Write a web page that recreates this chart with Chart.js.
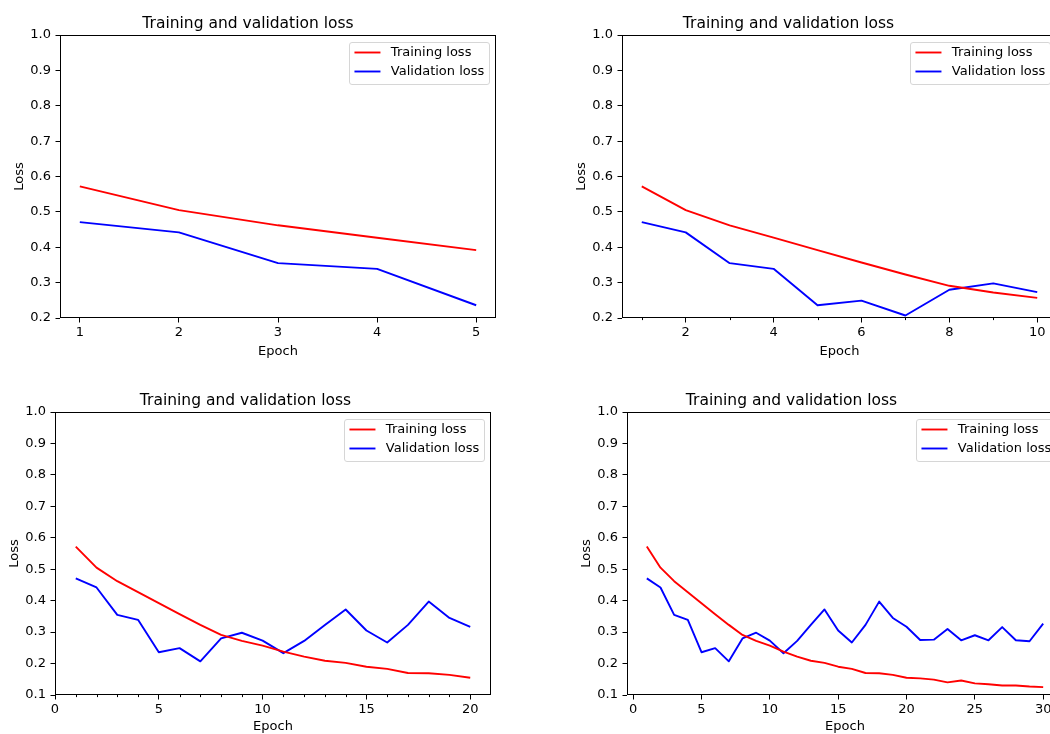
<!DOCTYPE html>
<html>
<head>
<meta charset="utf-8">
<title>Training and validation loss</title>
<script src="https://cdn.jsdelivr.net/npm/chart.js@4.4.1/dist/chart.umd.min.js"></script>
<style>
  html, body { margin: 0; padding: 0; background: #fff; overflow: hidden; }
  body { width: 1050px; height: 734px; position: relative; }
  canvas { position: absolute; }
</style>
</head>
<body>
<script>
// Loss per epoch of one training run; each panel shows the first N epochs
const epochs = [1, 2, 3, 4, 5, 6, 7, 8, 9, 10,
  11, 12, 13, 14, 15, 16, 17, 18, 19, 20,
  21, 22, 23, 24, 25, 26, 27, 28, 29, 30];
const trainLoss = [0.572, 0.505, 0.462, 0.427, 0.392, 0.357, 0.323, 0.291, 0.272, 0.257,
  0.238, 0.222, 0.209, 0.202, 0.190, 0.183, 0.170, 0.169, 0.164, 0.155,
  0.153, 0.149, 0.140, 0.146, 0.137, 0.134, 0.130, 0.130, 0.127, 0.125];
const valLoss = [0.471, 0.442, 0.355, 0.339, 0.236, 0.249, 0.207, 0.280, 0.298, 0.273,
  0.233, 0.272, 0.323, 0.372, 0.305, 0.267, 0.323, 0.397, 0.345, 0.317,
  0.275, 0.276, 0.310, 0.274, 0.290, 0.274, 0.316, 0.274, 0.271, 0.327];

const epochCounts = [5, 10, 20, 30];
const xTicks5 = [1, 2, 3, 4, 5];
const xTicks10 = [2, 4, 6, 8, 10];
const xTicks20 = [0, 5, 10, 15, 20];
const xTicks30 = [0, 5, 10, 15, 20, 25, 30];
const yTicksTop = [0.2, 0.3, 0.4, 0.5, 0.6, 0.7, 0.8, 0.9, 1.0];
const yTicksBottom = [0.1, 0.2, 0.3, 0.4, 0.5, 0.6, 0.7, 0.8, 0.9, 1.0];

const titleText = 'Training and validation loss';
const seriesNames = ['Training loss', 'Validation loss'];
const seriesColors = ['#ff0000', '#0000ff'];

Chart.defaults.font.family = '"DejaVu Sans", sans-serif';
Chart.defaults.color = '#000';

// canvas box and plot area in page pixels
const panels = [
  { box: [0, 0, 520, 370], area: [60, 35, 496, 318], n: epochCounts[0],
    xMin: 0.8, xMax: 5.2, xTicks: xTicks5, xMinor: [], yTicks: yTicksTop,
    titleTop: 14.2, xTitleBottom: 11 },
  { box: [520, 0, 545, 370], area: [622, 35, 1057, 318], n: epochCounts[1],
    xMin: 0.55, xMax: 10.45, xTicks: xTicks10, xMinor: [1, 3, 5, 7, 9], yTicks: yTicksTop,
    titleTop: 14.2, xTitleBottom: 11 },
  { box: [0, 372, 520, 362], area: [55, 412, 491, 695], n: epochCounts[2],
    xMin: 0, xMax: 21, xTicks: xTicks20,
    xMinor: [1, 2, 3, 4, 6, 7, 8, 9, 11, 12, 13, 14, 16, 17, 18, 19], yTicks: yTicksBottom,
    titleTop: 19.8, xTitleBottom: 0 },
  { box: [520, 372, 550, 362], area: [627, 412, 1063, 695], n: epochCounts[3],
    xMin: -0.45, xMax: 31.45, xTicks: xTicks30, xMinor: [], yTicks: yTicksBottom,
    titleTop: 19.8, xTitleBottom: 0 }
];

// spines on all four sides plus short minor ticks under the x axis
const framePlugin = {
  id: 'frame',
  afterDatasetsDraw(chart, args, opts) {
    const { ctx, chartArea } = chart;
    const l = Math.round(chartArea.left) + 0.5, t = Math.round(chartArea.top) + 0.5;
    const r = Math.round(chartArea.right) - 0.5, b = Math.round(chartArea.bottom) - 0.5;
    ctx.save();
    ctx.strokeStyle = '#000';
    ctx.lineWidth = 1;
    ctx.strokeRect(l, t, r - l, b - t);
    const xs = chart.scales.x;
    ctx.beginPath();
    (opts.minor || []).forEach(v => {
      const px = Math.round(xs.getPixelForValue(v)) + 0.5;
      ctx.moveTo(px, b);
      ctx.lineTo(px, b + 2.6);
    });
    ctx.stroke();
    ctx.restore();
  }
};

// framed legend in the upper right corner of the plot area
const legendPlugin = {
  id: 'boxLegend',
  afterDraw(chart) {
    const { ctx, chartArea } = chart;
    const fs = 13, pad = 5.2, handle = 26, gap = 10.4, h = 41.6;
    ctx.save();
    ctx.font = fs + 'px "DejaVu Sans"';
    const sets = chart.data.datasets;
    const textW = Math.max(...sets.map(d => ctx.measureText(d.label).width));
    const w = pad * 2 + handle + gap + textW;
    const x = chartArea.right - 6.5 - w;
    const y = chartArea.top + 6.5;
    ctx.beginPath();
    ctx.roundRect(Math.round(x) + 0.5, Math.round(y) + 0.5, Math.round(w), Math.round(h), 2.5);
    ctx.fillStyle = 'rgba(255,255,255,0.8)';
    ctx.fill();
    ctx.strokeStyle = '#d6d6d6';
    ctx.lineWidth = 1;
    ctx.stroke();
    sets.forEach((d, i) => {
      const cy = y + 11 + i * 19;
      ctx.beginPath();
      ctx.moveTo(x + pad, cy);
      ctx.lineTo(x + pad + handle, cy);
      ctx.strokeStyle = d.borderColor;
      ctx.lineWidth = 1.9;
      ctx.stroke();
      ctx.fillStyle = '#000';
      ctx.textBaseline = 'middle';
      ctx.textAlign = 'left';
      ctx.fillText(d.label, x + pad + handle + gap, cy + 0.5);
    });
    ctx.restore();
  }
};

function series(values, n) {
  return epochs.slice(0, n).map((e, i) => ({ x: e, y: values[i] }));
}

panels.forEach(p => {
  const [bx, by, bw, bh] = p.box;
  const [al, at, ar, ab] = p.area;
  const canvas = document.createElement('canvas');
  canvas.width = bw;
  canvas.height = bh;
  canvas.style.left = bx + 'px';
  canvas.style.top = by + 'px';
  document.body.appendChild(canvas);

  const yWidth = al - bx;
  const xHeight = by + bh - ab;
  const titleBottom = (at - by) - 15.5 * 1.2 - p.titleTop;

  new Chart(canvas.getContext('2d'), {
    type: 'line',
    data: {
      datasets: [
        { label: seriesNames[0], data: series(trainLoss, p.n), borderColor: seriesColors[0] },
        { label: seriesNames[1], data: series(valLoss, p.n), borderColor: seriesColors[1] }
      ]
    },
    options: {
      responsive: false,
      animation: false,
      events: [],
      layout: { padding: { left: 0, top: 0, right: bx + bw - ar, bottom: 0 } },
      elements: {
        line: { borderWidth: 1.9, tension: 0, fill: false, borderJoinStyle: 'round' },
        point: { radius: 0 }
      },
      plugins: {
        legend: { display: false },
        tooltip: { enabled: false },
        title: {
          display: true,
          text: titleText,
          color: '#000',
          font: { size: 15.5, weight: 'normal' },
          padding: { top: p.titleTop, bottom: titleBottom }
        },
        frame: { minor: p.xMinor }
      },
      scales: {
        x: {
          type: 'linear',
          min: p.xMin,
          max: p.xMax,
          afterBuildTicks: s => { s.ticks = p.xTicks.map(v => ({ value: v })); },
          afterFit: s => { s.height = xHeight; },
          grid: { drawOnChartArea: false, drawTicks: true, tickLength: 4.5, tickColor: '#000', tickWidth: 1 },
          border: { display: false },
          ticks: { font: { size: 13 }, padding: 2.5, maxRotation: 0, callback: v => String(v) },
          title: { display: true, text: 'Epoch', font: { size: 13 }, padding: { top: 0, bottom: p.xTitleBottom } }
        },
        y: {
          min: p.yTicks[0],
          max: 1.0,
          afterBuildTicks: s => { s.ticks = p.yTicks.map(v => ({ value: v })); },
          afterFit: s => { s.width = yWidth; },
          grid: { drawOnChartArea: false, drawTicks: true, tickLength: 4.5, tickColor: '#000', tickWidth: 1 },
          border: { display: false },
          ticks: { font: { size: 13 }, padding: 4.5, callback: v => Number(v).toFixed(1) },
          title: { display: true, text: 'Loss', font: { size: 13 }, padding: { top: al - 42 - bx - 6, bottom: 0 } }
        }
      }
    },
    plugins: [framePlugin, legendPlugin]
  });
});
</script>
</body>
</html>
